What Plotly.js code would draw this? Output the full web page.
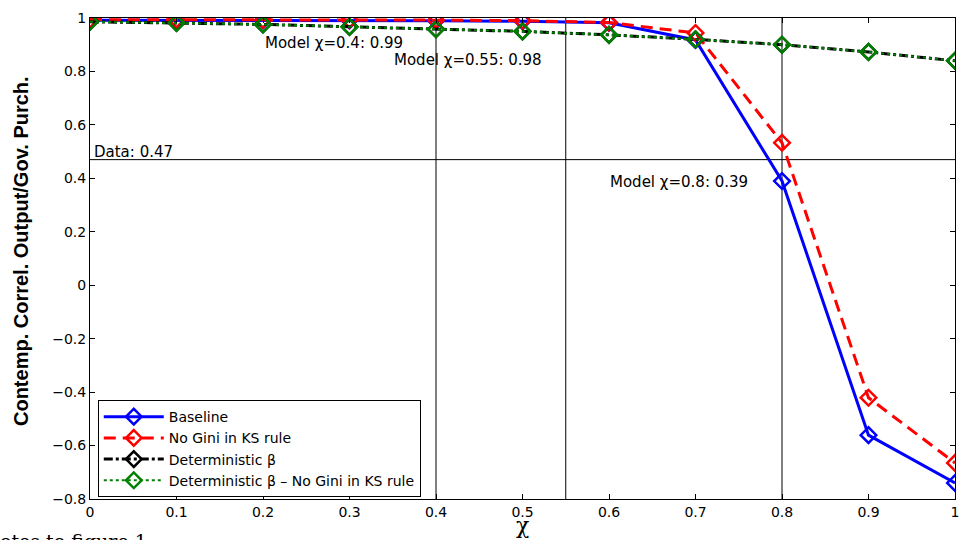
<!DOCTYPE html>
<html><head><meta charset="utf-8">
<script src="https://cdn.plot.ly/plotly-3.0.1.min.js"></script>
<style>body{margin:0;background:#fff}#chart{width:961px;height:540px}</style>
</head><body><div id="chart"></div>
<script>
const chi = [0, 0.1, 0.2, 0.3, 0.4, 0.5, 0.6, 0.7, 0.8, 0.9, 1.0];
const baseline = [0.992, 0.992, 0.991, 0.991, 0.990, 0.988, 0.982, 0.918, 0.39, -0.561, -0.74];
const noGini = [0.994, 0.994, 0.993, 0.993, 0.992, 0.990, 0.983, 0.944, 0.533, -0.421, -0.665];
const determBeta = [0.986, 0.982, 0.976, 0.967, 0.958, 0.950, 0.937, 0.920, 0.900, 0.873, 0.840];
const determBetaNoGini = [0.986, 0.982, 0.976, 0.967, 0.958, 0.950, 0.937, 0.920, 0.900, 0.873, 0.840];
const names = ['Baseline', 'No Gini in KS rule', 'Deterministic β', 'Deterministic β – No Gini in KS rule'];
const dataLevel = 0.47;
const vlines = [0.4, 0.55, 0.8];
const notes = [
  {x: 0.002, y: 0.497, text: 'Data: 0.47'},
  {x: 0.2, y: 0.907, text: 'Model χ=0.4: 0.99'},
  {x: 0.349, y: 0.843, text: 'Model χ=0.55: 0.98'},
  {x: 0.599, y: 0.387, text: 'Model χ=0.8: 0.39'}
];
const xTicks = [0, 0.1, 0.2, 0.3, 0.4, 0.5, 0.6, 0.7, 0.8, 0.9, 1];
const xTickText = ['0', '0.1', '0.2', '0.3', '0.4', '0.5', '0.6', '0.7', '0.8', '0.9', '1'];
const yTicks = [-0.8, -0.6, -0.4, -0.2, 0, 0.2, 0.4, 0.6, 0.8, 1];
const yTickText = ['−0.8', '−0.6', '−0.4', '−0.2', '0', '0.2', '0.4', '0.6', '0.8', '1'];
const yTitle = 'Contemp. Correl. Output/Gov. Purch.';
const xTitle = 'χ';
const pageNote = 'otes to figure 1';

const mk = (c) => ({symbol: 'diamond-open', size: 12, color: c, line: {width: 2.5, color: c}});
const traces = [
  {x: chi, y: baseline, name: names[0], mode: 'lines+markers', line: {color: '#0000ff', width: 3}, marker: mk('#0000ff')},
  {x: chi, y: noGini, name: names[1], mode: 'lines+markers', line: {color: '#ff0000', width: 3, dash: '12px,7px'}, marker: mk('#ff0000')},
  {x: chi, y: determBeta, name: names[2], mode: 'lines+markers', line: {color: '#000000', width: 3, dash: 'dashdot'}, marker: mk('#000000')},
  {x: chi, y: determBetaNoGini, name: names[3], mode: 'lines+markers', line: {color: '#008000', width: 2, dash: 'dot'}, marker: mk('#008000')}
];

const shapes = vlines.map(v => ({type: 'line', xref: 'x', yref: 'paper', x0: v, x1: v, y0: 0, y1: 1, line: {color: '#000', width: 1}, layer: 'below'}));
shapes.push({type: 'line', xref: 'paper', yref: 'y', x0: 0, x1: 1, y0: dataLevel, y1: dataLevel, line: {color: '#000', width: 1}, layer: 'below'});

const annotations = notes.map(n => ({x: n.x, y: n.y, xref: 'x', yref: 'y', text: n.text, showarrow: false, xanchor: 'left', yanchor: 'middle', font: {family: 'DejaVu Sans', size: 15, color: '#000'}}));
annotations.push({x: 0, y: 0.128, xref: 'paper', yref: 'y', xshift: -69, text: '<b>' + yTitle + '</b>', textangle: -90, showarrow: false, xanchor: 'center', yanchor: 'middle', font: {family: 'Liberation Sans, Arial', size: 20, color: '#000'}});
annotations.push({x: 0.5, y: 0, xref: 'paper', yref: 'paper', yshift: -12, text: xTitle, showarrow: false, xanchor: 'center', yanchor: 'top', font: {family: 'DejaVu Serif, serif', size: 22, color: '#000'}});
annotations.push({x: 0, y: 0, xref: 'paper', yref: 'paper', xshift: -92, yshift: -29, text: pageNote, showarrow: false, xanchor: 'left', yanchor: 'top', font: {family: 'DejaVu Serif, serif', size: 19, color: '#000'}});

const layout = {
  width: 961, height: 540,
  margin: {l: 90, r: 6, t: 18, b: 41},
  paper_bgcolor: '#fff', plot_bgcolor: '#fff',
  font: {family: 'DejaVu Sans, Liberation Sans, Arial', size: 14, color: '#000'},
  showlegend: true,
  legend: {x: 0.009, y: 0.004, xanchor: 'left', yanchor: 'bottom', bgcolor: '#fff', bordercolor: '#000', borderwidth: 1, font: {size: 14, family: 'DejaVu Sans'}, tracegroupgap: 0, itemwidth: 60},
  xaxis: {range: [0, 1], tickvals: xTicks, ticktext: xTickText, ticks: 'inside', ticklen: 5, tickcolor: '#000', showline: true, linecolor: '#000', linewidth: 1, mirror: 'ticks', showgrid: false, zeroline: false, tickfont: {size: 14}},
  yaxis: {range: [-0.8, 1], tickvals: yTicks, ticktext: yTickText, ticks: 'inside', ticklen: 5, tickcolor: '#000', showline: true, linecolor: '#000', linewidth: 1, mirror: 'ticks', showgrid: false, zeroline: false, tickfont: {size: 14}},
  shapes: shapes,
  annotations: annotations
};
Plotly.newPlot('chart', traces, layout, {displayModeBar: false, staticPlot: true});
</script>
</body></html>
